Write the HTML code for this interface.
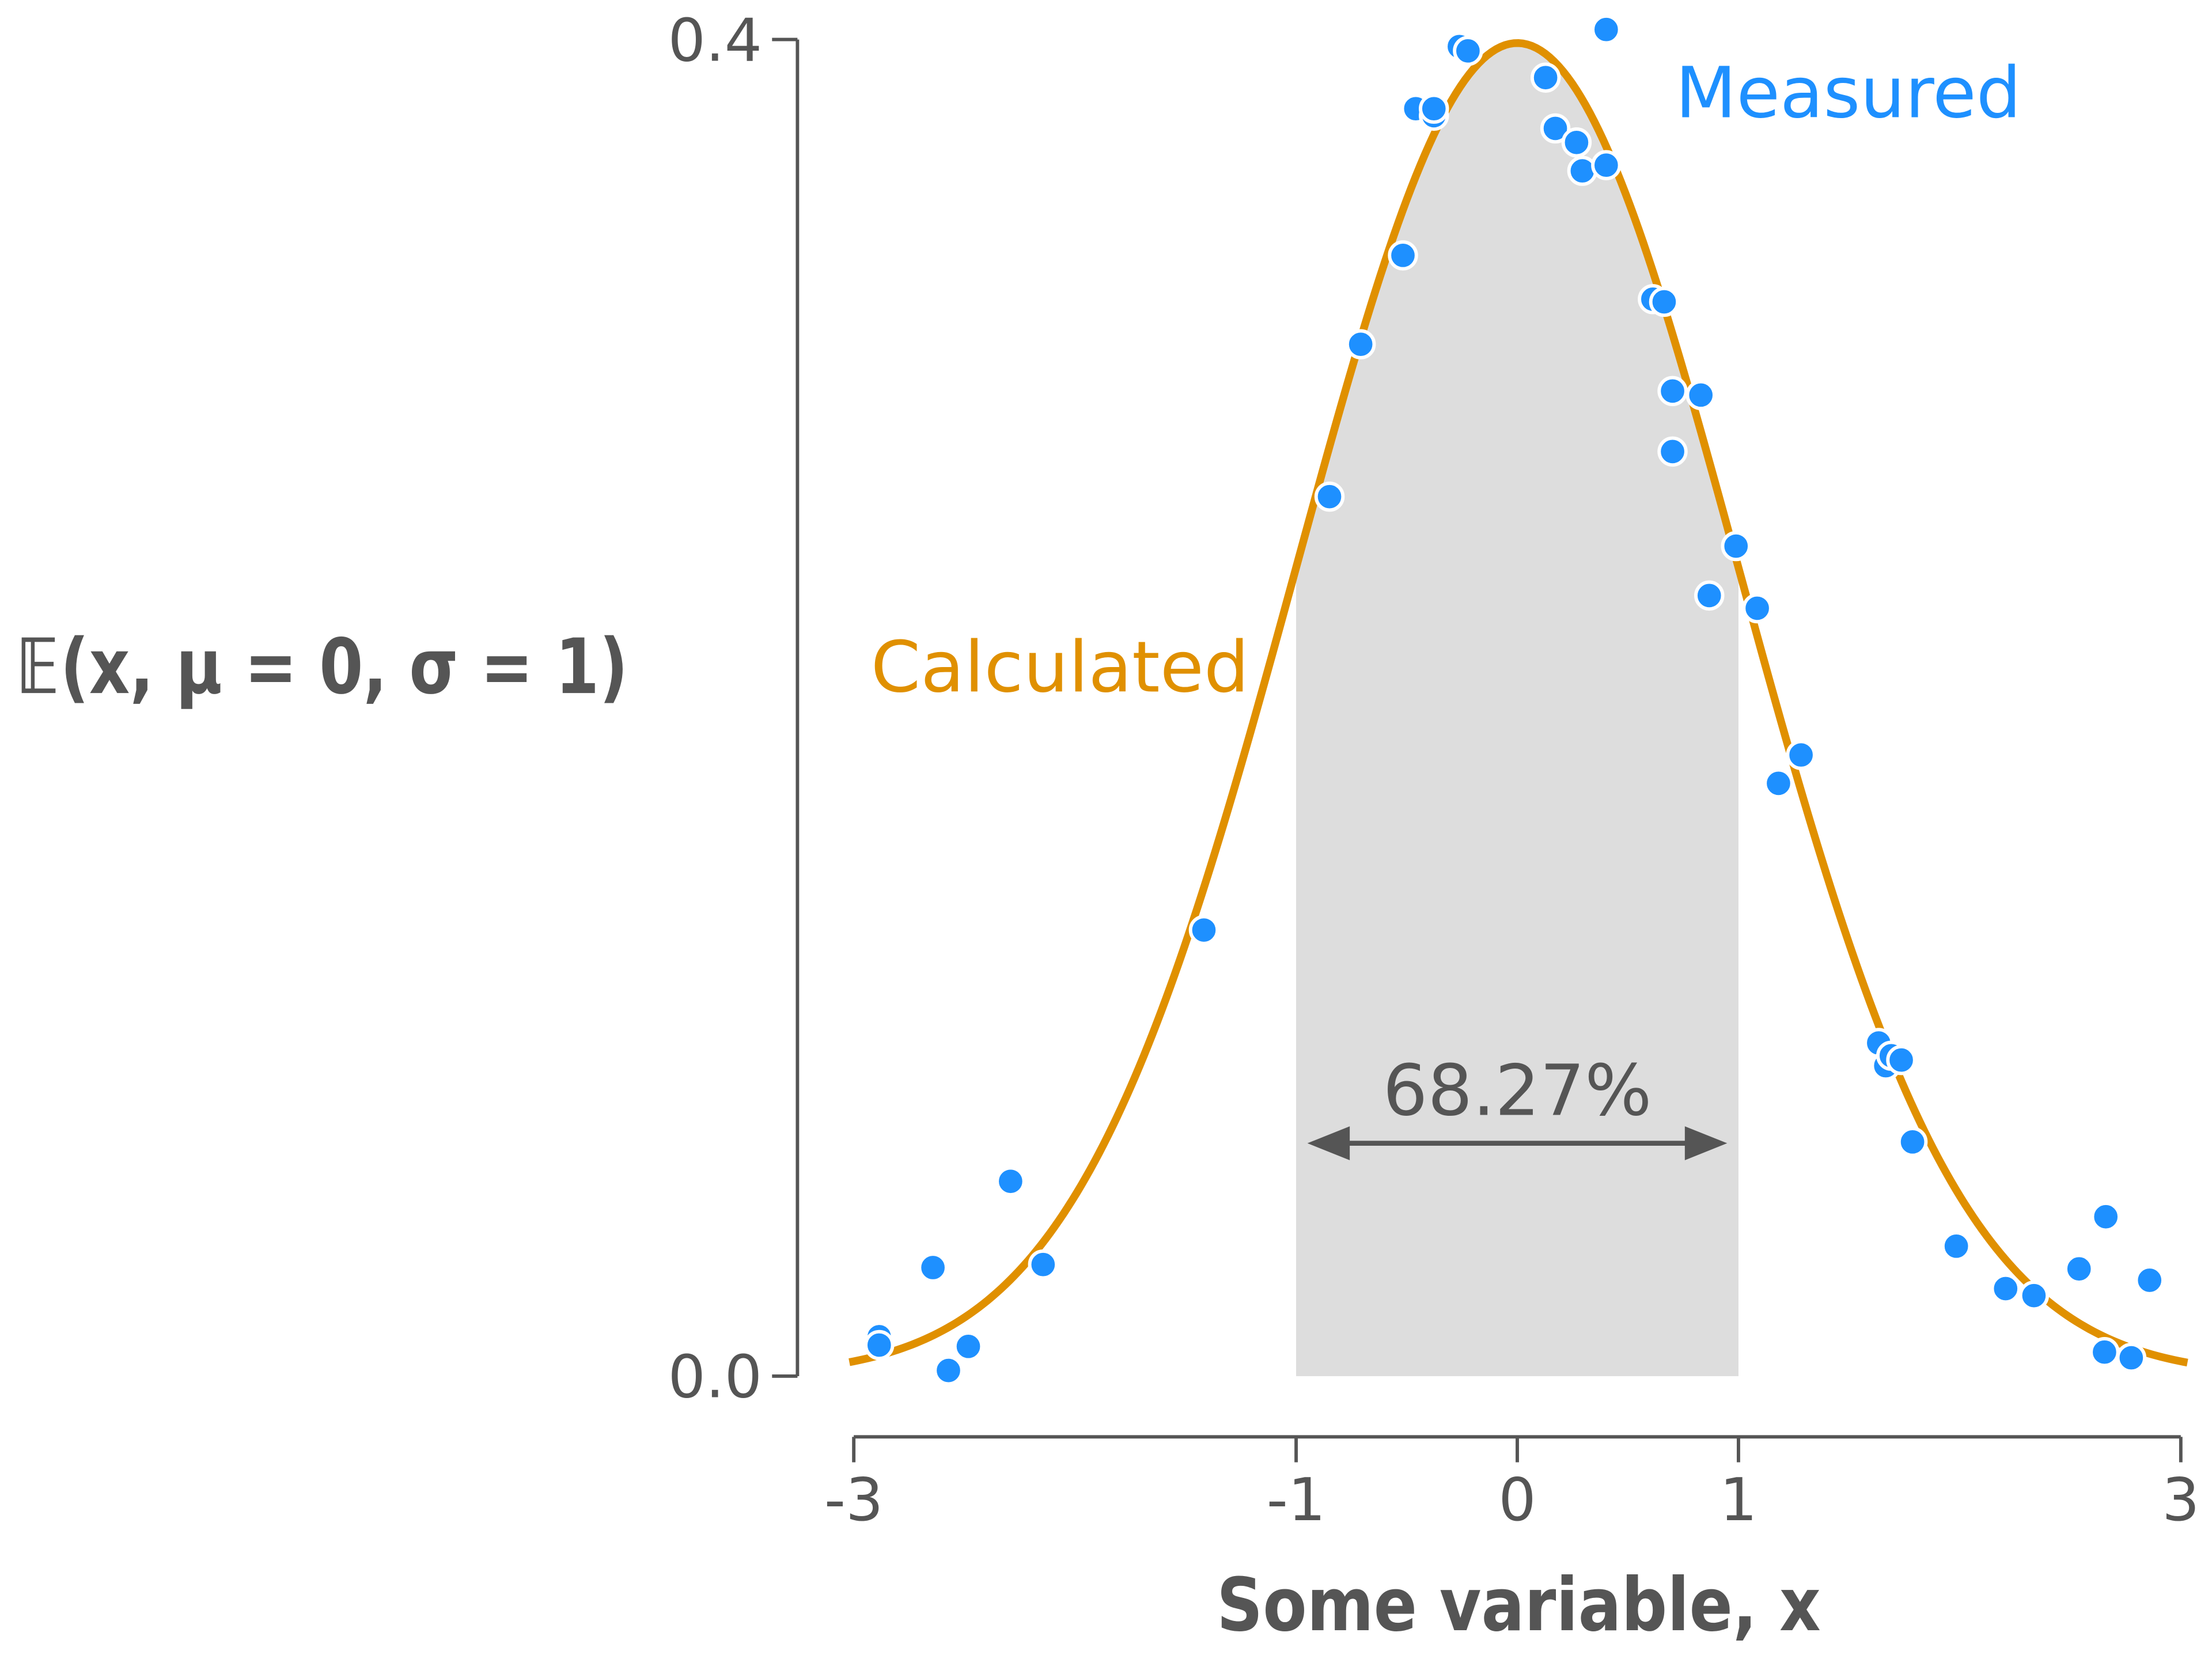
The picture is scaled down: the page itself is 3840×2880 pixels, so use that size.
<!DOCTYPE html>
<html><head><meta charset="utf-8"><style>
html,body{margin:0;padding:0;background:#fff;}
svg{display:block;}
text{font-family:"DejaVu Sans","Liberation Sans",sans-serif;}
</style></head><body>
<svg id="chart" width="3840" height="2880" viewBox="0 0 1567.2 1175.4" xmlns="http://www.w3.org/2000/svg">
<g id="plot"></g>
</svg>
<script>
const xTicks=[-3,-1,0,1,3];
const xTickLabels=["-3","-1","0","1","3"];
const yTicks=[0,0.4];
const yTickLabels=["0.0","0.4"];
const measuredX=[-2.885,-2.885,-2.642,-2.572,-2.482,-2.291,-2.144,-1.417,-0.849,-0.708,-0.517,-0.459,-0.377,-0.377,-0.262,-0.223,0.128,0.172,0.268,0.294,0.402,0.402,0.613,0.664,0.702,0.830,0.702,0.989,0.868,1.085,1.283,1.181,1.634,1.666,1.691,1.736,1.787,1.985,2.208,2.336,2.540,2.661,2.655,2.776,2.859];
const measuredY=[0.0118,0.0093,0.0325,0.0017,0.0089,0.0583,0.0334,0.1335,0.2632,0.3088,0.3354,0.3793,0.3772,0.3793,0.3979,0.3966,0.3886,0.3734,0.3692,0.3607,0.4030,0.3624,0.3223,0.3215,0.2948,0.2936,0.2767,0.2484,0.2336,0.2298,0.1859,0.1774,0.0997,0.0929,0.0959,0.0946,0.0701,0.0389,0.0262,0.0241,0.0321,0.0477,0.0072,0.0055,0.0287];
const mu=0, sigma=1;
const shadeRange=[-1,1];
const shadeLabel="68.27%";

const NS="http://www.w3.org/2000/svg";
const g=document.getElementById('plot');
function X(v){return 1075+v*156.7;}
function Y(v){return 975-v*2367.5;}
function pdf(x){return Math.exp(-0.5*((x-mu)/sigma)**2)/(sigma*Math.sqrt(2*Math.PI));}
function mk(tag,attrs,parent){const e=document.createElementNS(NS,tag);for(const k in attrs)e.setAttribute(k,attrs[k]);(parent||g).appendChild(e);return e;}
const grey="#555555";

let d="M"+X(shadeRange[0])+","+Y(0);
for(let i=0;i<=100;i++){const x=shadeRange[0]+(shadeRange[1]-shadeRange[0])*i/100;d+=" L"+X(x)+","+Y(pdf(x));}
d+=" L"+X(shadeRange[1])+","+Y(0)+" Z";
const shade=mk('path',{d:d,fill:"#dddddd"});



let c="";
for(let i=0;i<=300;i++){const x=-3.02+6.05*i/300;c+=(i?" L":"M")+X(x)+","+Y(pdf(x));}
const curve=mk('path',{d:c,fill:"none",stroke:"#e09000","stroke-width":5.5});



for(let i=0;i<measuredX.length;i++){
  const p=mk('circle',{cx:X(measuredX[i]),cy:Y(measuredY[i]),r:9.5,fill:"#1e90ff",stroke:"#fff","stroke-width":2.4});
  
  
}

const ya=mk('line',{x1:565,y1:Y(0.4),x2:565,y2:Y(0),stroke:grey,"stroke-width":2.4});


const xa=mk('line',{x1:X(-3),y1:1018,x2:X(3),y2:1018,stroke:grey,"stroke-width":2.4});


for(let i=0;i<yTicks.length;i++){
  const t=mk('line',{x1:547,y1:Y(yTicks[i]),x2:565,y2:Y(yTicks[i]),stroke:grey,"stroke-width":2.4});
  
  
  const l=mk('text',{x:540,y:Y(yTicks[i])+15,"text-anchor":"end","font-size":42,fill:grey});
  l.textContent=yTickLabels[i];
  
  
}
for(let i=0;i<xTicks.length;i++){
  const t=mk('line',{x1:X(xTicks[i]),y1:1018,x2:X(xTicks[i]),y2:1036,stroke:grey,"stroke-width":2.4});
  
  
  const l=mk('text',{x:X(xTicks[i]),y:1077,"text-anchor":"middle","font-size":42,fill:grey});
  l.textContent=xTickLabels[i];
  
  
}
const xt=mk('text',{x:862,y:1155,"font-size":52,"font-weight":"bold",fill:grey,textLength:428,lengthAdjust:"spacingAndGlyphs"});
xt.textContent="Some variable, x";


const yt=mk('text',{x:12,y:491,"font-size":54,"font-weight":"bold",fill:grey,textLength:433,lengthAdjust:"spacingAndGlyphs"});
yt.textContent="𝔼(x, μ = 0, σ = 1)";



const cl=mk('text',{x:617,y:490,"font-size":50,fill:"#e09000",textLength:268,lengthAdjust:"spacingAndGlyphs"});
cl.textContent="Calculated";


const ml=mk('text',{x:1187,y:83,"font-size":50,fill:"#1e90ff",textLength:245,lengthAdjust:"spacingAndGlyphs"});
ml.textContent="Measured";



const ar=mk('line',{x1:X(shadeRange[0])+30,y1:810,x2:X(shadeRange[1])-30,y2:810,stroke:grey,"stroke-width":3.5});


const h1=mk('path',{d:`M${X(shadeRange[0])+8},810 L${X(shadeRange[0])+38},798 L${X(shadeRange[0])+38},822 Z`,fill:grey});


const h2=mk('path',{d:`M${X(shadeRange[1])-8},810 L${X(shadeRange[1])-38},798 L${X(shadeRange[1])-38},822 Z`,fill:grey});


const pl=mk('text',{x:X((shadeRange[0]+shadeRange[1])/2),y:790,"text-anchor":"middle","font-size":50,fill:grey});
pl.textContent=shadeLabel;


</script>
</body></html>
